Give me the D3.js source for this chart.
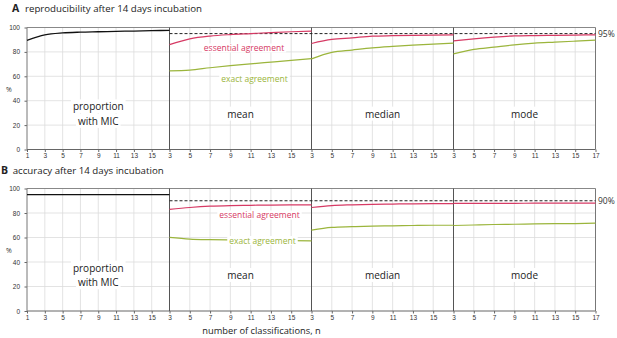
<!DOCTYPE html>
<html><head><meta charset="utf-8">
<script src="https://cdn.jsdelivr.net/npm/d3@7"></script>
<style>
body{margin:0;background:#fff;}
svg{display:block;font-family:"Open Sans",sans-serif;}
</style></head>
<body><svg id="c" width="617" height="338"></svg>
<script>
// ---------- data ----------
const nFirst = [1,3,5,7,9,11,13,15,17];
const nRest = [3,5,7,9,11,13,15,17];
const panelNames = [["proportion","with MIC"],["mean"],["median"],["mode"]];
const yTicks = [0,20,40,60,80,100];
const xTicksFirst = [1,3,5,7,9,11,13,15];
const xTicksRest = [3,5,7,9,11,13,15];

const A_proportion = [89.5,94,95.6,96.2,96.5,96.8,97.1,97.4,97.7];
const A_mean_essential = [86,90.7,93,94.2,95,95.8,96.5,97];
const A_mean_exact = [64.5,65.1,67,68.7,70.2,71.6,73,74.5];
const A_median_essential = [86.9,90.2,91.5,92.9,93.3,93.6,93.8,94];
const A_median_exact = [74.3,79.6,81.5,83.3,84.5,85.5,86.4,87.2];
const A_mode_essential = [89,90.7,92.1,93.1,93.4,93.6,93.8,94];
const A_mode_exact = [78.4,82,83.9,85.8,87.2,88,88.8,89.6];
const A_threshold = 95;

const B_proportion = [95,95,95,95,95,95,95,95,95];
const B_mean_essential = [82.9,84.5,85.6,86.1,86.3,86.5,86.6,86.6];
const B_mean_exact = [60.1,58.7,58.2,58,57.9,57.7,57.5,57.3];
const B_median_essential = [84.5,86.1,86.7,87.1,87.3,87.5,87.6,87.7];
const B_median_exact = [66,68.2,68.8,69.3,69.5,69.8,70,70];
const B_mode_essential = [87.8,87.8,87.9,87.9,88,88,88,88];
const B_mode_exact = [69.8,70.2,70.6,70.8,71.1,71.3,71.4,71.7];
const B_threshold = 90;

const RED = "#d63a64", GREEN = "#9bb53c";

const svg = d3.select("#c");
const bounds = [27, 169.5, 311.5, 453.5, 595.5];

function drawChart(o){
  const y = d3.scaleLinear().domain([0,100]).range([o.y0, o.y100]);
  const g = svg.append("g");
  const xs = bounds.slice(0,4).map((b,i)=> d3.scaleLinear()
      .domain(i===0 ? [1,17] : [3,17]).range([b, bounds[i+1]]));
  // grid
  const grid = g.append("g").attr("stroke","#dcdcdc").attr("stroke-width",0.8);
  xs.forEach((x,i)=>{
    const tk = (i===0?xTicksFirst:xTicksRest).filter(t=> t!==(i===0?1:3));
    tk.forEach(t=> grid.append("line").attr("x1",x(t)).attr("x2",x(t)).attr("y1",y(0)).attr("y2",y(100)));
  });
  yTicks.filter(t=>t>0&&t<100).forEach(t=> grid.append("line").attr("x1",bounds[0]).attr("x2",bounds[4]).attr("y1",y(t)).attr("y2",y(t)));
  // x axes per panel
  xs.forEach((x,i)=>{
    const tv = (i===0?xTicksFirst:xTicksRest).concat(i===3?[17]:[]);
    const ax = d3.axisBottom(x).tickValues(tv).tickSize(2.5).tickFormat(d3.format("d"));
    const a = g.append("g").attr("transform",`translate(0,${y(0)})`).call(ax);
    a.select(".domain").remove();
    a.selectAll("line").attr("stroke","#666");
    a.selectAll("text").attr("font-size",6.5).attr("fill","#333").attr("dy","0.9em").attr("y",3);
  });
  // y axis
  const ay = d3.axisLeft(y).tickValues(yTicks).tickSize(2.5);
  const ya = g.append("g").attr("transform",`translate(${bounds[0]},0)`).call(ay);
  ya.select(".domain").remove();
  ya.selectAll("line").attr("stroke","#666");
  ya.selectAll("text").attr("font-size",6.5).attr("fill","#333").attr("x",-7);
  g.append("text").attr("x",9).attr("y",y(50)+3).attr("font-size",7).attr("fill","#333").attr("text-anchor","middle").text("%");
  // panel labels with white bg
  panelNames.forEach((nm,i)=>{
    const cx = (bounds[i]+bounds[i+1])/2;
    const lh = 14.5;
    const cy = y(29);
    nm.forEach((line,j)=>{
      const ty = cy + (j - (nm.length-1)/2)*lh;
      const t = g.append("text").attr("x",cx).attr("y",ty).attr("dy","0.35em").attr("text-anchor","middle")
        .attr("font-size",10).attr("fill","#222").text(line);
      const bb = t.node().getBBox();
      g.insert("rect", () => t.node()).attr("x",bb.x-2).attr("y",bb.y).attr("width",bb.width+4).attr("height",bb.height).attr("fill","#fff");
    });
  });
  // frames
  const fr = g.append("g").attr("stroke","#666").attr("stroke-width",1).attr("fill","none");
  fr.append("line").attr("x1",bounds[0]).attr("x2",bounds[4]).attr("y1",y(100)).attr("y2",y(100)).attr("stroke","#888");
  fr.append("line").attr("x1",bounds[0]).attr("x2",bounds[4]).attr("y1",y(0)).attr("y2",y(0));
  bounds.forEach((b,i)=> fr.append("line").attr("x1",b).attr("x2",b).attr("y1",y(0)).attr("y2",y(100))
     .attr("stroke", i===0||i===4 ? "#777" : "#555"));
  // threshold
  g.append("line").attr("x1",bounds[1]).attr("x2",bounds[4]).attr("y1",y(o.thr)).attr("y2",y(o.thr))
    .attr("stroke","#222").attr("stroke-width",1).attr("stroke-dasharray","3,2");
  g.append("text").attr("x",bounds[4]+2.5).attr("y",y(o.thr)).attr("dy","0.35em").attr("font-size",8.5).attr("fill","#333").text(o.thr+"%");
  // lines
  const mk = x => d3.line().x((d,i)=>x(d[0])).y(d=>y(d[1])).curve(d3.curveMonotoneX);
  g.append("path").datum(nFirst.map((n,i)=>[n,o.prop[i]])).attr("d",mk(xs[0])).attr("fill","none").attr("stroke","#111").attr("stroke-width",1.3);
  o.series.forEach((s,i)=>{
    const x = xs[i+1];
    g.append("path").datum(nRest.map((n,k)=>[n,s.ess[k]])).attr("d",mk(x)).attr("fill","none").attr("stroke",RED).attr("stroke-width",1.2);
    g.append("path").datum(nRest.map((n,k)=>[n,s.ex[k]])).attr("d",mk(x)).attr("fill","none").attr("stroke",GREEN).attr("stroke-width",1.2);
  });
  // series labels
  o.labels.forEach(l=>{
    const t = g.append("text").attr("x",l.x).attr("y",l.y).attr("dy","0.35em").attr("text-anchor","middle")
      .attr("font-size",8.5).attr("fill",l.c).text(l.t);
    const bb = t.node().getBBox();
    g.insert("rect", () => t.node()).attr("x",bb.x-2).attr("y",bb.y+1).attr("width",bb.width+4).attr("height",bb.height-2).attr("fill","#fff");
  });
  // title
  svg.append("text").attr("x",o.lx).attr("y",o.ty).attr("fill","#222").attr("font-weight","bold")
    .attr("font-size",10.5).text(o.letter);
  svg.append("text").attr("x",o.tx).attr("y",o.ty).attr("fill","#222").attr("font-size",9.3)
    .attr("textLength",o.tw).attr("lengthAdjust","spacingAndGlyphs").text(o.title);
}

drawChart({y0:149.5, y100:27.5, thr:A_threshold, prop:A_proportion, letter:"A", lx:12, tx:25, tw:177, ty:12,
  title:"reproducibility after 14 days incubation",
  series:[{ess:A_mean_essential,ex:A_mean_exact},{ess:A_median_essential,ex:A_median_exact},{ess:A_mode_essential,ex:A_mode_exact}],
  labels:[{t:"essential agreement",x:244,y:48.5,c:RED},{t:"exact agreement",x:254.5,y:79.5,c:GREEN}]});
drawChart({y0:311, y100:188.5, thr:B_threshold, prop:B_proportion, letter:"B", lx:1, tx:12.7, tw:151, ty:174,
  title:"accuracy after 14 days incubation",
  series:[{ess:B_mean_essential,ex:B_mean_exact},{ess:B_median_essential,ex:B_median_exact},{ess:B_mode_essential,ex:B_mode_exact}],
  labels:[{t:"essential agreement",x:259.5,y:215.5,c:RED},{t:"exact agreement",x:262.5,y:241,c:GREEN}]});

svg.append("text").attr("x",261.5).attr("y",334).attr("text-anchor","middle").attr("font-size",9.3).attr("fill","#222")
  .text("number of classifications, n");
</script></body></html>
